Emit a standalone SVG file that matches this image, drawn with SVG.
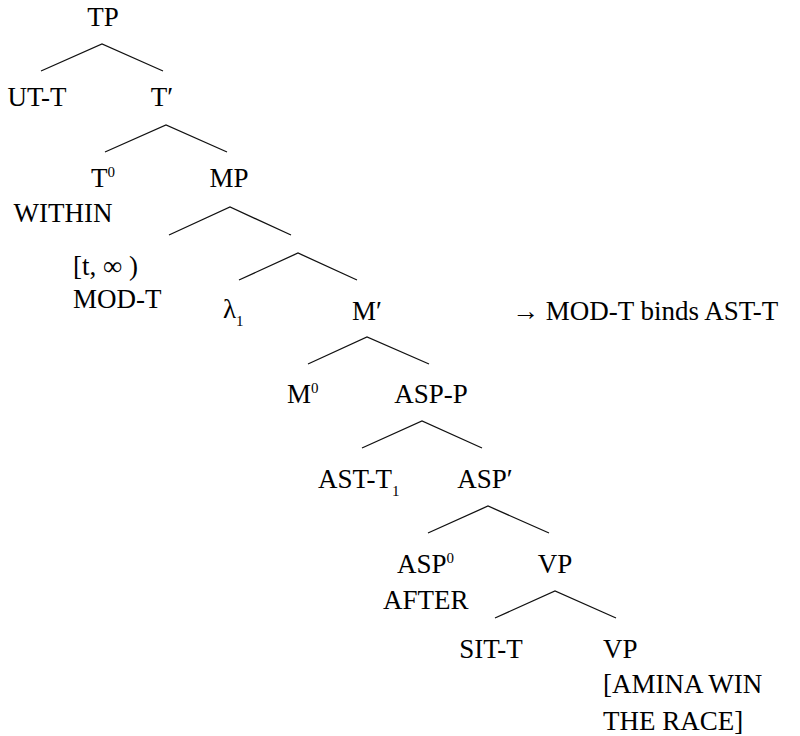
<svg xmlns="http://www.w3.org/2000/svg" width="800" height="736" viewBox="0 0 800 736">
  <style>
    .c { text-anchor: middle; }
    .s { font-size: 15px; }
    .edge { stroke: #111; stroke-width: 1.3; fill: none; }
  </style>
  <rect width="800" height="736" fill="#fff"/>

  <!-- branches -->
  <g id="connectors">
    <path class="edge" d="M41 71 L102 44 L163 71"/>
    <path class="edge" d="M105 152 L166 125 L227 152"/>
    <path class="edge" d="M169 235 L230 207 L291 235"/>
    <path class="edge" d="M239 280 L298 253 L357 280"/>
    <path class="edge" d="M308 364 L367 337 L429 364"/>
    <path class="edge" d="M362 448 L422 421 L482 448"/>
    <path class="edge" d="M428 533 L488 506 L549 533"/>
    <path class="edge" d="M495 618 L555 591 L616 618"/>
  </g>

  <!-- node labels -->
  <text id="node-tp" font-family="Liberation Serif" font-size="27" class="c" x="103" y="26">TP</text>
  <text id="node-ut-t" font-family="Liberation Serif" font-size="27" class="c" x="37" y="106">UT-T</text>
  <text id="node-t-bar" font-family="Liberation Serif" font-size="27" class="c" x="162" y="106">T′</text>
  <text id="node-t0" font-family="Liberation Serif" font-size="27" x="91" y="187">T<tspan class="s" dy="-10">0</tspan></text>
  <text id="node-mp" font-family="Liberation Serif" font-size="27" class="c" x="229" y="187">MP</text>
  <text id="node-within" font-family="Liberation Serif" font-size="27" class="c" x="63" y="222">WITHIN</text>
  <text id="node-mod-t" font-family="Liberation Serif" font-size="27" x="73" y="275">[t, ∞ )<tspan x="73" y="308">MOD-T</tspan></text>
  <text id="node-lambda" font-family="Liberation Serif" font-size="27" x="223" y="318">λ<tspan class="s" dy="8">1</tspan></text>
  <text id="node-m-bar" font-family="Liberation Serif" font-size="27" class="c" x="367" y="320">M′</text>
  <text id="node-note" font-family="Liberation Serif" font-size="27" x="512" y="320">→ MOD-T binds AST-T</text>
  <text id="node-m0" font-family="Liberation Serif" font-size="27" x="287" y="403">M<tspan class="s" dy="-10">0</tspan></text>
  <text id="node-asp-p" font-family="Liberation Serif" font-size="27" class="c" x="431" y="403">ASP-P</text>
  <text id="node-ast-t" font-family="Liberation Serif" font-size="27" x="318" y="488">AST-T<tspan class="s" dy="8">1</tspan></text>
  <text id="node-asp-bar" font-family="Liberation Serif" font-size="27" class="c" x="485" y="488">ASP′</text>
  <text id="node-asp0" font-family="Liberation Serif" font-size="27" x="397" y="573">ASP<tspan class="s" dy="-10">0</tspan><tspan x="383" y="609">AFTER</tspan></text>
  <text id="node-vp" font-family="Liberation Serif" font-size="27" class="c" x="555" y="573">VP</text>
  <text id="node-sit-t" font-family="Liberation Serif" font-size="27" class="c" x="491" y="658">SIT-T</text>
  <text id="node-vp-inner" font-family="Liberation Serif" font-size="27" x="603" y="658">VP<tspan x="603" y="693">[AMINA WIN</tspan><tspan x="603" y="730">THE RACE]</tspan></text>
</svg>
